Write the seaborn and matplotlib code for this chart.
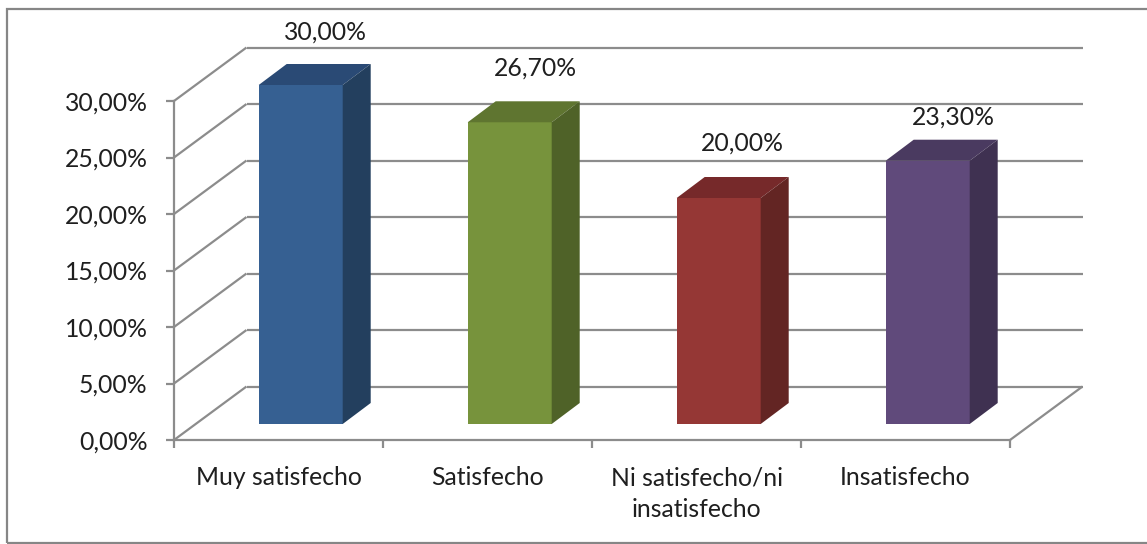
import matplotlib
matplotlib.use("Agg")
import matplotlib.pyplot as plt
from matplotlib.patches import Rectangle
from matplotlib.transforms import Affine2D
import pandas as pd
import seaborn as sns

categories = ["Muy satisfecho", "Satisfecho", "Ni satisfecho/ni\ninsatisfecho", "Insatisfecho"]
values = [30.0, 26.7, 20.0, 23.3]
front_colors = ["#366092", "#77933C", "#953735", "#604A7B"]
top_colors = ["#2A4A75", "#5F7530", "#76292A", "#4A3A60"]
side_colors = ["#233F5E", "#4F6228", "#632523", "#3F3151"]
yticks = [0, 5, 10, 15, 20, 25, 30]

sns.set_theme(style="white")
plt.rcParams["font.family"] = ["Lato", "DejaVu Sans"]
GRAY = "#8C8C8C"
TXT = "#1F1F1F"
FS = 17.8

W, H = 1147, 544
fig = plt.figure(figsize=(W / 100, H / 100), dpi=100, facecolor="white")
ax = fig.add_axes([174 / W, (H - 440) / H, 836 / W, 339 / H])

df = pd.DataFrame({"cat": categories, "val": values})
PX_X = 4 / 836      # data units per pixel, x
PX_Y = 30 / 339     # data units per pixel, y
BAR_W = 84 * PX_X

sns.barplot(data=df, x="cat", y="val", hue="cat", palette=front_colors, legend=False,
            width=BAR_W, ax=ax, saturation=1, zorder=5)
ax.set_xlim(-0.5, 3.5)
ax.set_ylim(0, 30)
ax.set_xlabel("")
ax.set_ylabel("")

# walls: back grid, depth lines
wall_dx, wall_dy = 72.5 * PX_X, 53.5 * PX_Y
line = dict(color=GRAY, lw=1.6, clip_on=False, zorder=1, solid_capstyle="butt")
for t in yticks:
    ax.plot([-0.5, -0.5 + wall_dx], [t, t + wall_dy], **line)
    ax.plot([-0.5 + wall_dx, 3.5 + wall_dx], [t + wall_dy, t + wall_dy], **line)
ax.plot([3.5, 3.5 + wall_dx], [0, wall_dy], **line)

# bars shifted to mid depth, with top and side faces
shift = Affine2D().translate(22.2 * PX_X, 16 * PX_Y) + ax.transData
bar_dx, bar_dy = 28 * PX_X, 21 * PX_Y
label_offsets = [(25, 53), (26, 54), (24, 55), (26, 44)]
for i, (patch, v) in enumerate(zip(ax.patches, values)):
    patch.set_transform(shift)
    patch.set_clip_on(False)
    patch.set_edgecolor("none")
    x0 = patch.get_x()
    x1 = x0 + patch.get_width()
    ax.fill([x0, x1, x1 + bar_dx, x0 + bar_dx], [v, v, v + bar_dy, v + bar_dy],
            color=top_colors[i], lw=0, transform=shift, clip_on=False, zorder=5)
    ax.fill([x1, x1 + bar_dx, x1 + bar_dx, x1], [0, bar_dy, v + bar_dy, v],
            color=side_colors[i], lw=0, transform=shift, clip_on=False, zorder=5)
    ox, oy = label_offsets[i]
    ax.annotate(f"{v:.2f}%".replace(".", ","), xy=((x0 + x1) / 2, v), xycoords=shift,
                xytext=(ox * 0.72, oy * 0.72), textcoords="offset points",
                ha="center", va="center", fontsize=FS, color=TXT, zorder=6)

# axes
for s in ["top", "right"]:
    ax.spines[s].set_visible(False)
for s in ["left", "bottom"]:
    ax.spines[s].set_color(GRAY)
    ax.spines[s].set_linewidth(1.6)
ax.patch.set_alpha(0)
ax.set_yticks(yticks)
ax.set_yticklabels([f"{t:.2f}%".replace(".", ",") for t in yticks])
ax.set_xticks([-0.5, 0.5, 1.5, 2.5, 3.5])
ax.set_xticklabels([])
ax.tick_params(axis="both", length=6, width=1.6, color=GRAY, labelcolor=TXT, labelsize=FS,
               left=True, bottom=True)
ax.tick_params(axis="y", pad=13)
for i, c in enumerate(categories):
    ax.annotate(c, xy=(i, 0), xycoords="data", xytext=(0, -19), textcoords="offset points",
                ha="center", va="top", fontsize=FS, color=TXT, linespacing=1.47)

# chart frame: its right edge falls outside the picture
fig.add_artist(Rectangle((7.5 / W, 1 / H), (W + 20) / W, (H - 10) / H, transform=fig.transFigure,
                         fill=False, ec="#868686", lw=1.6))

fig.savefig("out.png", dpi=100)
